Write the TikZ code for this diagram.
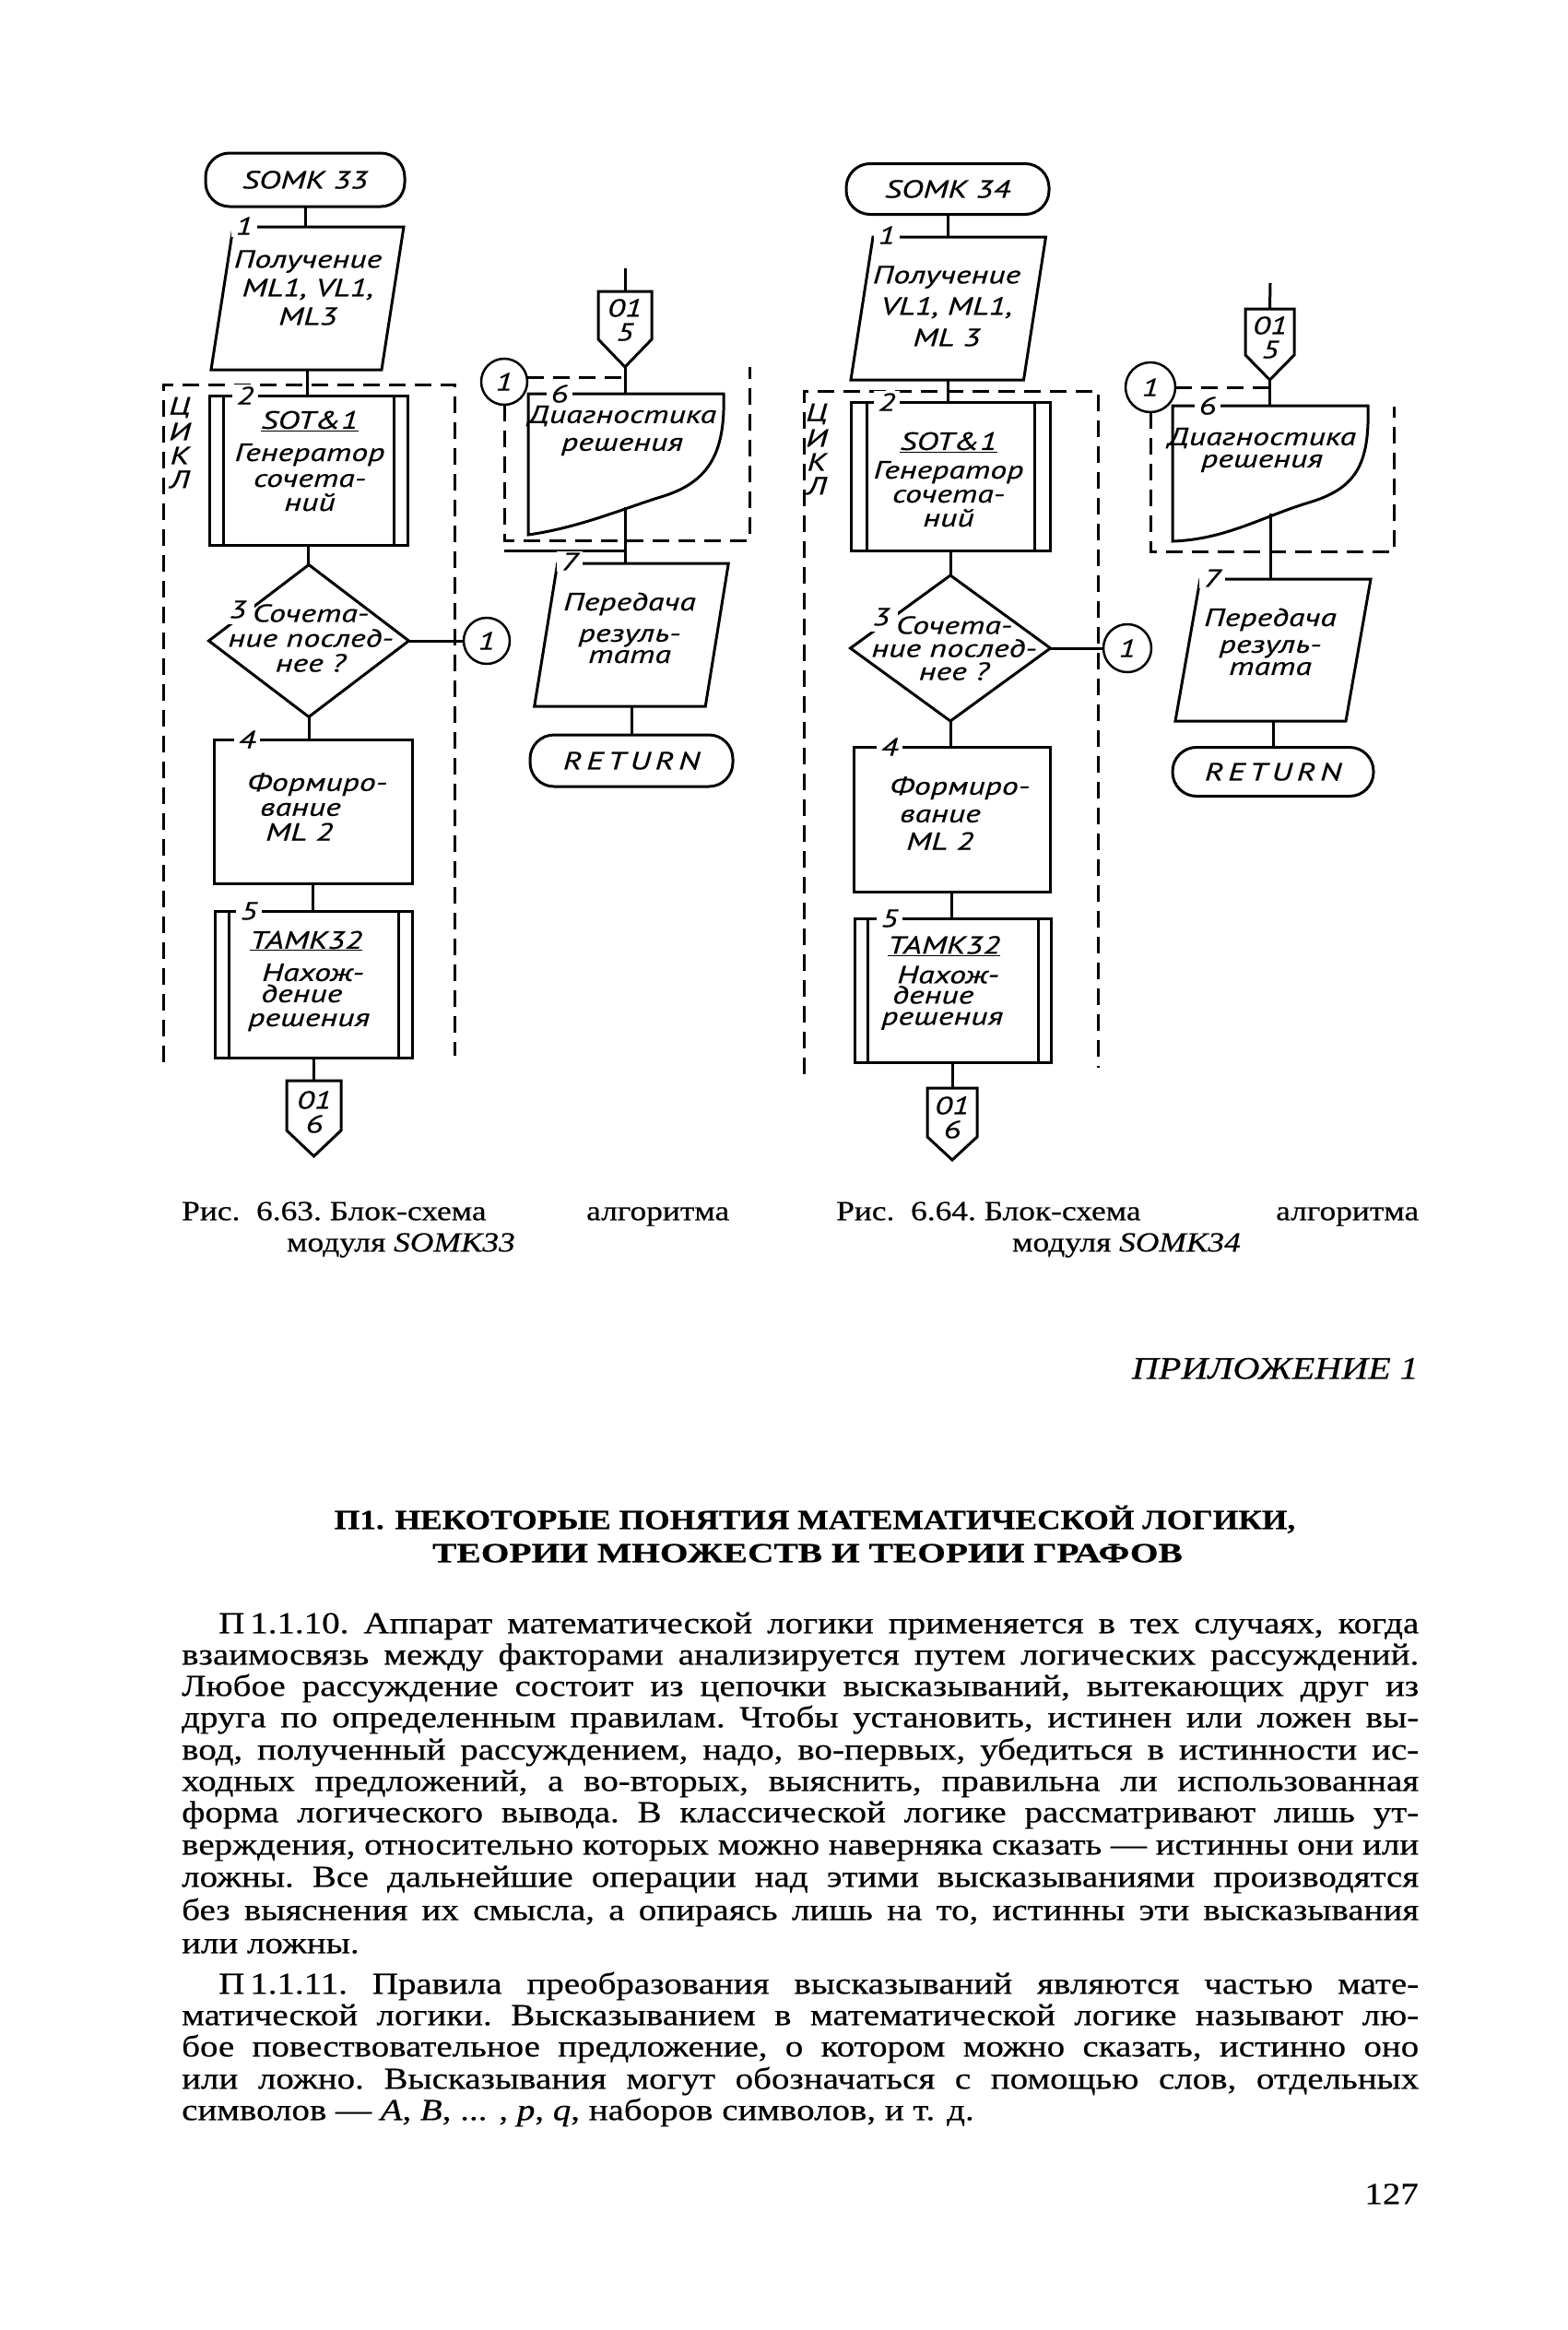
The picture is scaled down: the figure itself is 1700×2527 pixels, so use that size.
\documentclass[tikz,border=0pt]{standalone}
\usepackage{fontspec}
\usepackage{graphicx}
\setmainfont{Liberation Serif}[FakeStretch=1.18,FakeBold=0.5]
\newfontfamily\fcf{PT Sans}[FakeStretch=1.33,FakeBold=0.5]
\usetikzlibrary{shapes.geometric,calc}
\newcommand{\fct}{\fcf\itshape\fontsize{27}{30}\selectfont}
\newcommand{\bodyf}{\fontsize{33}{35}\selectfont}
\newcommand{\capf}{\fontsize{30}{35}\selectfont}
\newcommand{\jl}[2]{\hbox to #1{\frenchspacing\spaceskip=.25em plus 1fil minus .12em\relax #2}}
\newcommand{\rtn}{R\kern5pt E\kern5pt T\kern5pt U\kern5pt R\kern5pt N}
\begin{document}
\begin{tikzpicture}[x=1pt,y=-1pt,
  ln/.style={line width=3pt},
  ghost/.style={inner sep=0pt,outer sep=0pt},
  bx/.style={draw,line width=3pt,inner sep=0pt,outer sep=0pt},
  ft/.style={inner sep=0pt,align=center,font=\fct},
  ftl/.style={inner sep=0pt,align=left,font=\fct,anchor=west},
  num/.style={fill=white,inner xsep=5pt,inner ysep=2pt,font=\fct},
  term/.style={draw,line width=3pt,rounded corners=26pt,inner sep=0pt,outer sep=0pt,font=\fct},
  crc/.style={draw,circle,line width=2.5pt,inner sep=0pt,outer sep=0pt,minimum size=50pt,font=\fct},
  dsh/.style={line width=3pt,dash pattern=on 18pt off 10pt},
  dia/.style={draw,diamond,line width=3pt,inner sep=0pt,outer sep=0pt},
  bodyl/.style={anchor=mid west,inner sep=0pt,font=\bodyf},
]
\useasboundingbox (0,0) rectangle (1700,2527);
\fill[white] (0,0) rectangle (1700,2527);

% ================= LEFT CHART =================
\node[term,minimum width=216pt,minimum height=58pt] (t1) at (331,195) {SOMK 33};
\node[ghost,minimum width=185pt,minimum height=155pt] (p1) at (333.5,323.5) {};
\draw[ln] ([xshift=12pt]p1.north west) -- ([xshift=12pt]p1.north east) -- ([xshift=-12pt]p1.south east) -- ([xshift=-12pt]p1.south west) -- cycle;

\draw[dsh] (177,1152) -- (177,417) -- (493,417) -- (493,1145);
\node[ft] (cy1) at (195,442) {Ц};
\node[ft] (cy2) at (195,468) {И};
\node[ft] (cy3) at (195,494) {К};
\node[ft] (cy4) at (195,520) {Л};

\node[bx,minimum width=215pt,minimum height=162pt] (b2) at (334.5,510) {};
\draw[ln] ([xshift=15pt]b2.north west) -- ([xshift=15pt]b2.south west);
\draw[ln] ([xshift=-15pt]b2.north east) -- ([xshift=-15pt]b2.south east);
\node[dia,minimum width=217pt,minimum height=165pt] (d3) at (335,695) {};
\node[crc] (c1) at (528,695) {1};
\node[bx,minimum width=215pt,minimum height=156pt] (b4) at (339.5,880) {};
\node[bx,minimum width=214pt,minimum height=159pt] (b5) at (340,1067.5) {};
\draw[ln] ([xshift=15pt]b5.north west) -- ([xshift=15pt]b5.south west);
\draw[ln] ([xshift=-15pt]b5.north east) -- ([xshift=-15pt]b5.south east);
\node[ghost,minimum width=59pt,minimum height=82pt] (o1) at (340.5,1213) {};
\draw[ln] (o1.north west) -- (o1.north east) -- ([yshift=28pt]o1.south east) -- (o1.south) -- ([yshift=28pt]o1.south west) -- cycle;

% labels
\node[num] (n1) at (265,245) {1};
\node[num] (n2) at (266,429) {2};
\node[num,inner xsep=9pt,inner ysep=6pt] (n3) at (258,661) {3};
\node[num] (n4) at (268,802) {4};
\node[num] (n5) at (270,988) {5};

% texts
\node[ft] (p1t) at (334,312) {Получение\\[1pt]ML1, VL1,\\[1pt]ML3};
\node[ft] (b2t) at (336,500) {\underline{SOT\&1}\\[5pt]Генератор\\[-2pt]сочета-\\[-4pt]ний};
\node[ft] (d3t) at (337,692) {Сочета-\\[-3pt]ние послед-\\[-3pt]нее ?};
\node[ftl] (b4t) at (268,875) {Формиро-\\[-3pt]\hspace*{14pt}вание\\[-3pt]\hspace*{20pt}ML 2};
\node[ftl] (b5t) at (269,1064) {\hspace*{2pt}\underline{TAMK32}\\[5pt]\hspace*{15pt}Нахож-\\[-7pt]\hspace*{14pt}дение\\[-4pt]решения};
\node[ft] (o1t) at (341,1206) {01\\[-4pt]6};

% connectors
\draw[ln] (t1.south) -- (t1.south |- p1.north);
\draw[ln] (p1.south) -- (p1.south |- b2.north);
\draw[ln] (b2.south) -- (b2.south |- d3.north);
\draw[ln] (d3.east) -- (c1.west);
\draw[ln] (d3.south) -- (d3.south |- b4.north);
\draw[ln] (b4.south) -- (b4.south |- b5.north);
\draw[ln] (b5.south) -- (b5.south |- o1.north);

% ================= MIDDLE LEFT =================
\coordinate (in1) at (678,291);
\node[ghost,minimum width=58pt,minimum height=82pt] (o2) at (678,357) {};
\draw[ln] (o2.north west) -- (o2.north east) -- ([yshift=30pt]o2.south east) -- (o2.south) -- ([yshift=30pt]o2.south west) -- cycle;
\node[ft] (o2t) at (678,347) {01\\[-4pt]5};
\node[crc] (c2) at (547,414) {1};
\node[ghost,minimum width=212pt,minimum height=153pt] (b6) at (679,503.5) {};
\draw[ln] (573,580) -- (573,427) -- (785,427) .. controls (787,490) and (770,522) .. (720,538) .. controls (680,550) and (630,572) .. (573,580) -- cycle;
\coordinate (b6b) at (678,550);
\draw[dsh] (c2.south) -- (c2.south |- 0,586) -- (813,586) -- (813,398);
\draw[dsh] (c2.10) -- (c2.10 -| in1);
\draw[ln] (c2.south |- 0,597) -- (in1 |- 0,597);
\node[ghost,minimum width=185.5pt,minimum height=155pt] (b7) at (685,688.5) {};
\draw[ln] ([xshift=12.5pt]b7.north west) -- ([xshift=12.5pt]b7.north east) -- ([xshift=-12.5pt]b7.south east) -- ([xshift=-12.5pt]b7.south west) -- cycle;
\node[term,minimum width=220pt,minimum height=56pt] (r1) at (685,825) {\rtn};
\node[num] (n6) at (607,427) {6};
\node[num] (n7) at (618,609) {7};
\node[ft] (b6t) at (675,467) {Диагностика\\решения};
\node[ft] (b7t) at (683,681) {Передача\\[4pt]резуль-\\[-7pt]тата};
\draw[ln] (in1) -- (o2.north);
\draw[ln] (o2.south) -- (o2.south |- b6.north);
\draw[ln] (b6b) -- (b6b |- b7.north);
\draw[ln] (b7.south) -- (b7.south |- r1.north);

% ================= RIGHT CHART =================
\node[term,minimum width=220pt,minimum height=55pt] (t2) at (1028,205) {SOMK 34};
\node[ghost,minimum width=187.5pt,minimum height=155pt] (p2) at (1028.75,334.5) {};
\draw[ln] ([xshift=12pt]p2.north west) -- ([xshift=12pt]p2.north east) -- ([xshift=-12pt]p2.south east) -- ([xshift=-12pt]p2.south west) -- cycle;

\draw[dsh] (872,1165) -- (872,424) -- (1191,424) -- (1191,1158);
\node[ft] (cz1) at (886,449) {Ц};
\node[ft] (cz2) at (886,475) {И};
\node[ft] (cz3) at (886,501) {К};
\node[ft] (cz4) at (886,527) {Л};

\node[bx,minimum width=216pt,minimum height=161pt] (q2) at (1031,516.5) {};
\draw[ln] ([xshift=17pt]q2.north west) -- ([xshift=17pt]q2.south west);
\draw[ln] ([xshift=-17pt]q2.north east) -- ([xshift=-17pt]q2.south east);
\node[dia,minimum width=217pt,minimum height=158pt] (q3) at (1031,703) {};
\node[crc,minimum size=52pt] (e1) at (1223,703) {1};
\node[bx,minimum width=213pt,minimum height=157pt] (q4) at (1032.5,888.5) {};
\node[bx,minimum width=213pt,minimum height=156pt] (q5) at (1033.5,1074) {};
\draw[ln] ([xshift=14pt]q5.north west) -- ([xshift=14pt]q5.south west);
\draw[ln] ([xshift=-14pt]q5.north east) -- ([xshift=-14pt]q5.south east);
\node[ghost,minimum width=54pt,minimum height=78pt] (e2) at (1033,1219) {};
\draw[ln] (e2.north west) -- (e2.north east) -- ([yshift=25pt]e2.south east) -- (e2.south) -- ([yshift=25pt]e2.south west) -- cycle;

\node[num] (m1) at (962,255) {1};
\node[num] (m2) at (962,436) {2};
\node[num,inner xsep=9pt,inner ysep=6pt] (m3) at (956,669) {3};
\node[num] (m4) at (965,810) {4};
\node[num] (m5) at (965,996) {5};

\node[ft] (p2t) at (1027,332) {Получение\\[4pt]VL1, ML1,\\[4pt]ML 3};
\node[ft] (q2t) at (1029,520) {\underline{SOT\&1}\\[1pt]Генератор\\[-4pt]сочета-\\[-4pt]ний};
\node[ft] (q3t) at (1035,703) {Сочета-\\[-5pt]ние послед-\\[-5pt]нее ?};
\node[ftl] (q4t) at (965,882) {Формиро-\\\hspace*{11pt}вание\\\hspace*{18pt}ML 2};
\node[ftl] (q5t) at (956,1066) {\hspace*{7pt}\underline{TAMK32}\\[2pt]\hspace*{17pt}Нахож-\\[-8pt]\hspace*{12pt}дение\\[-7pt]решения};
\node[ft] (e2t) at (1033,1212) {01\\[-4pt]6};

\draw[ln] (t2.south) -- (t2.south |- p2.north);
\draw[ln] (p2.south) -- (p2.south |- q2.north);
\draw[ln] (q2.south) -- (q2.south |- q3.north);
\draw[ln] (q3.east) -- (e1.west);
\draw[ln] (q3.south) -- (q3.south |- q4.north);
\draw[ln] (q4.south) -- (q4.south |- q5.north);
\draw[ln] (q5.south) -- (q5.south |- e2.north);

% ================= MIDDLE RIGHT =================
\coordinate (in2) at (1378,307);
\node[ghost,minimum width=53pt,minimum height=77pt] (e3) at (1377.5,373.5) {};
\draw[ln] (e3.north west) -- (e3.north east) -- ([yshift=27pt]e3.south east) -- (e3.south) -- ([yshift=27pt]e3.south west) -- cycle;
\node[ft] (e3t) at (1378,366) {01\\[-4pt]5};
\node[crc,minimum size=54pt] (e4) at (1248,420) {1};
\node[ghost,minimum width=212pt,minimum height=147pt] (q6) at (1378,513.5) {};
\draw[ln] (1272,587) -- (1272,440) -- (1484,440) .. controls (1486,505) and (1470,530) .. (1420,545) .. controls (1370,560) and (1330,585) .. (1272,587) -- cycle;
\coordinate (q6b) at (1378,557);
\draw[dsh] (e4.south) -- (e4.south |- 0,598) -- (1512,598) -- (1512,441);
\draw[dsh] (e4.east) -- (e4.east -| in2);
\node[ghost,minimum width=185pt,minimum height=154pt] (q7) at (1381,705) {};
\draw[ln] ([xshift=13.5pt]q7.north west) -- ([xshift=13.5pt]q7.north east) -- ([xshift=-13.5pt]q7.south east) -- ([xshift=-13.5pt]q7.south west) -- cycle;
\node[term,minimum width=218pt,minimum height=53pt] (r2) at (1381,837) {\rtn};
\node[num] (m6) at (1310,440) {6};
\node[num] (m7) at (1315,627) {7};
\node[ft] (q6t) at (1369,488) {Диагностика\\[-6pt]решения};
\node[ft] (q7t) at (1378,696) {Передача\\[-1pt]резуль-\\[-6pt]тата};
\draw[ln] (in2) -- (e3.north);
\draw[ln] (e3.south) -- (e3.south |- q6.north);
\draw[ln] (q6b) -- (q6b |- q7.north);
\draw[ln] (q7.south) -- (q7.south |- r2.north);

% ================= CAPTIONS & TEXT =================
\node[anchor=mid west,inner sep=0pt,font=\capf] (cap1) at (197,1321) {\hbox to 594pt{Рис.\ \ 6.63.\ Блок-схема\hfill алгоритма}};
\node[inner sep=0pt,anchor=mid,font=\capf] (cap1b) at (435,1355) {модуля \textit{SOMK33}};
\node[anchor=mid west,inner sep=0pt,font=\capf] (cap2) at (907,1321) {\hbox to 632pt{Рис.\ \ 6.64.\ Блок-схема\hfill алгоритма}};
\node[inner sep=0pt,anchor=mid,font=\capf] (cap2b) at (1222,1355) {модуля \textit{SOMK34}};

\node[inner sep=0pt,anchor=mid east,font=\fontsize{34}{36}\selectfont\itshape] (app) at (1539,1493) {ПРИЛОЖЕНИЕ 1};
\node[inner sep=0pt,anchor=mid,font=\fontsize{30}{34}\selectfont\bfseries] (h1) at (884,1656) {П1. НЕКОТОРЫЕ ПОНЯТИЯ МАТЕМАТИЧЕСКОЙ ЛОГИКИ,};
\node[inner sep=0pt,anchor=mid,font=\fontsize{30}{34}\selectfont\bfseries] (h2) at (876,1692) {\scalebox{1.115}[1]{ТЕОРИИ МНОЖЕСТВ И ТЕОРИИ ГРАФОВ}};

\node[bodyl] (l1) at (237,1769) {\jl{1302pt}{П\kern6pt 1.1.10. Аппарат математической логики применяется в тех случаях, когда}};
\node[bodyl] (l2) at (197,1803) {\jl{1342pt}{взаимосвязь между факторами анализируется путем логических рассуждений.}};
\node[bodyl] (l3) at (197,1837) {\jl{1342pt}{Любое рассуждение состоит из цепочки высказываний, вытекающих друг из}};
\node[bodyl] (l4) at (197,1871) {\jl{1342pt}{друга по определенным правилам. Чтобы установить, истинен или ложен вы-}};
\node[bodyl] (l5) at (197,1906) {\jl{1342pt}{вод, полученный рассуждением, надо, во-первых, убедиться в истинности ис-}};
\node[bodyl] (l6) at (197,1940) {\jl{1342pt}{ходных предложений, а во-вторых, выяснить, правильна ли использованная}};
\node[bodyl] (l7) at (197,1974) {\jl{1342pt}{форма логического вывода. В классической логике рассматривают лишь ут-}};
\node[bodyl] (l8) at (197,2009) {\jl{1342pt}{верждения, относительно которых можно наверняка сказать — истинны они или}};
\node[bodyl] (l9) at (197,2044) {\jl{1342pt}{ложны. Все дальнейшие операции над этими высказываниями производятся}};
\node[bodyl] (l10) at (197,2080) {\jl{1342pt}{без выяснения их смысла, а опираясь лишь на то, истинны эти высказывания}};
\node[bodyl] (l11) at (197,2116) {или ложны.};
\node[bodyl] (l12) at (237,2160) {\jl{1302pt}{П\kern6pt 1.1.11. Правила преобразования высказываний являются частью мате-}};
\node[bodyl] (l13) at (197,2194) {\jl{1342pt}{матической логики. Высказыванием в математической логике называют лю-}};
\node[bodyl] (l14) at (197,2228) {\jl{1342pt}{бое повествовательное предложение, о котором можно сказать, истинно оно}};
\node[bodyl] (l15) at (197,2263) {\jl{1342pt}{или ложно. Высказывания могут обозначаться с помощью слов, отдельных}};
\node[bodyl] (l16) at (197,2297) {символов — \textit{A}, \textit{B}, ... , \textit{p}, \textit{q}, наборов символов, и т. д.};
\node[inner sep=0pt,anchor=mid east,font=\bodyf] (pg) at (1539,2388) {127};
\end{tikzpicture}
\end{document}
